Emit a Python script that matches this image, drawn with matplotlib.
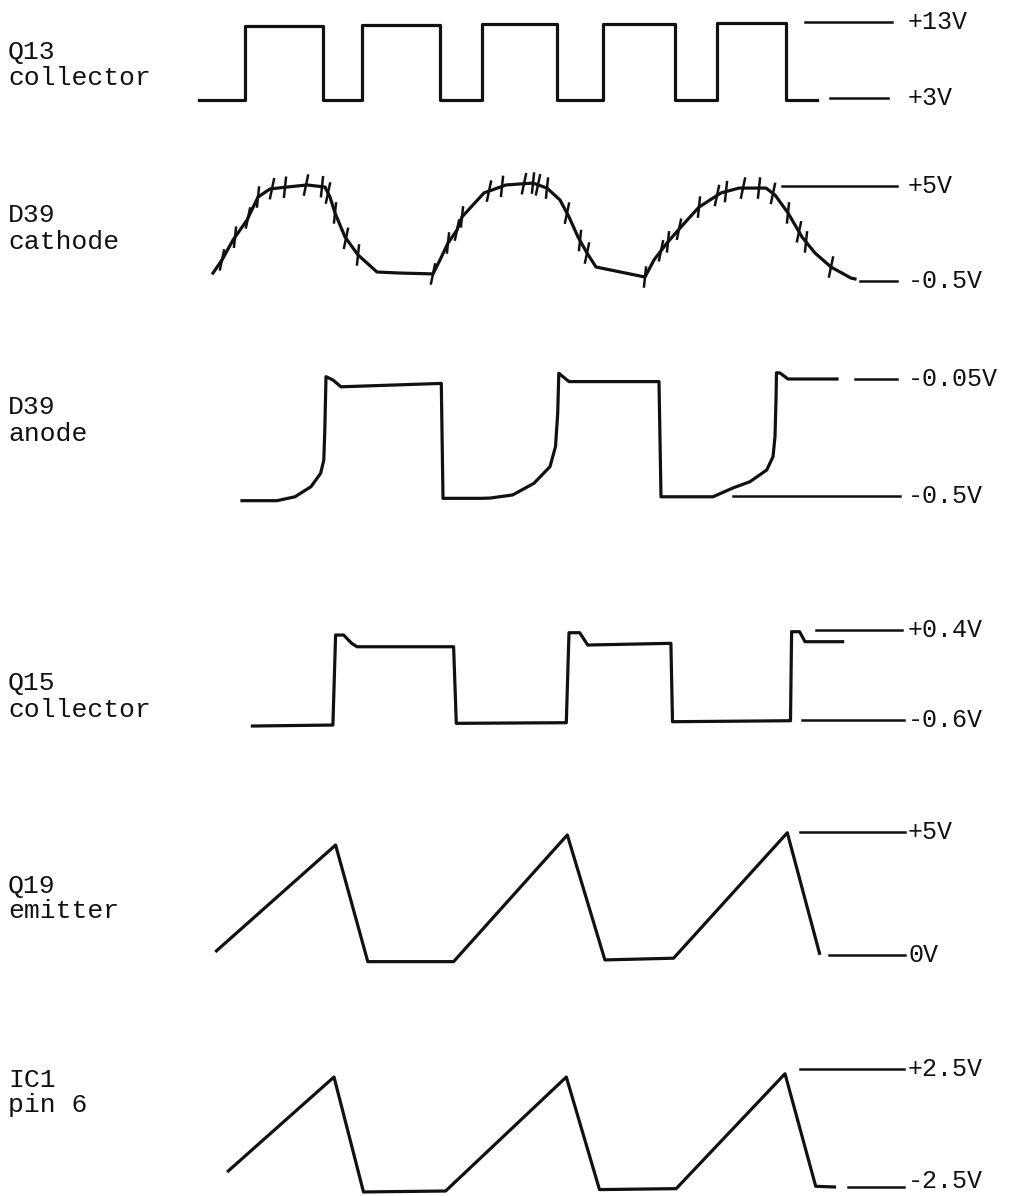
import numpy as np
import matplotlib.pyplot as plt

plt.rcParams['font.family'] = ['Liberation Mono', 'DejaVu Sans Mono']

W, H = 1017, 1196

# Q13 collector: square wave (step edges, volts)
q13_t = [199, 244.5, 323, 362, 440, 482, 557, 603, 675, 717, 786, 817]
q13_v = [2.8, 12.45, 2.8, 12.55, 2.8, 12.7, 2.8, 12.8, 2.8, 12.9, 2.8, 2.8]

# D39 cathode: rounded humps
cath_t = [213, 222, 233, 247, 258, 270, 287, 307, 325, 330, 335, 345, 358, 377, 400, 433,
          440, 448, 457, 462, 484, 506, 533, 547, 560, 569, 578, 587, 596, 645,
          654, 667, 681, 699, 721, 739, 766, 775, 788, 802, 815, 831, 851, 855]
cath_v = [-0.04, 0.72, 1.87, 3.03, 4.36, 4.83, 4.94, 5.06, 4.94, 4.36, 3.44, 2.05, 1.01, 0.02, -0.04, -0.09,
          0.72, 1.70, 2.45, 3.21, 4.60, 5.06, 5.17, 4.88, 4.19, 3.21, 2.05, 1.12, 0.31, -0.27,
          0.72, 1.70, 2.63, 3.78, 4.60, 4.88, 4.88, 4.48, 3.44, 2.05, 1.12, 0.31, -0.33, -0.38]
# hand-drawn hatch marks along the cathode trace
cath_marks = [222, 235, 248, 258, 272, 285, 306, 322, 328, 335, 346, 358, 433,
              448, 457, 462, 489, 502, 524, 533, 538, 547, 567, 580, 587, 645,
              661, 668, 679, 699, 717, 726, 743, 759, 773, 788, 799, 806, 831]

# D39 anode
anode_t = [242, 277, 295, 311, 320.6, 323.8, 324.8, 326, 333, 341, 441.3, 443,
           480.4, 490, 512.6, 534, 550, 555.5, 557.7, 558.8, 569, 659, 661,
           713, 733, 750, 766.7, 773, 775, 776, 776.5, 780, 788, 837]
anode_v = [-0.518, -0.518, -0.503, -0.464, -0.413, -0.362, -0.246, -0.041, -0.054, -0.080, -0.067, -0.509,
           -0.509, -0.508, -0.496, -0.451, -0.387, -0.310, -0.182, -0.028, -0.060, -0.060, -0.503,
           -0.503, -0.469, -0.445, -0.400, -0.349, -0.272, -0.131, -0.026, -0.027, -0.050, -0.050]

# Q15 collector
q15_t = [252.4, 332.9, 335.6, 343.6, 351.7, 357, 453.6, 456.3, 566.3, 569, 579.7, 587.7,
         670.9, 672.5, 790.5, 791.6, 799.6, 805, 842.6]
q15_v = [-0.667, -0.656, 0.344, 0.344, 0.252, 0.214, 0.214, -0.637, -0.630, 0.370, 0.370, 0.233,
         0.252, -0.619, -0.608, 0.381, 0.381, 0.270, 0.270]

# Q19 emitter: sawtooth
q19_t = [216.5, 335.6, 367.8, 453.6, 567.3, 604.9, 673.6, 787.3, 819.5]
q19_v = [0.17, 4.47, -0.27, -0.27, 4.88, -0.20, -0.13, 4.97, 0.07]

# IC1 pin 6: sawtooth
ic1_t = [228.3, 334, 363.5, 445.6, 566.3, 599.5, 676.2, 785, 815.7, 834.5]
ic1_v = [-1.82, 2.16, -2.71, -2.67, 2.16, -2.61, -2.57, 2.30, -2.47, -2.5]

names = [["Q13", "collector"], ["D39", "cathode"], ["D39", "anode"],
         ["Q15", "collector"], ["Q19", "emitter"], ["IC1", "pin 6"]]
ref_hi = [13, 5, -0.05, 0.4, 5, 2.5]
ref_lo = [3, -0.5, -0.5, -0.6, 0, -2.5]
hi_text = ["+13V", "+5V", "-0.05V", "+0.4V", "+5V", "+2.5V"]
lo_text = ["+3V", "-0.5V", "-0.5V", "-0.6V", "0V", "-2.5V"]

# layout: pixel rows of the two reference levels, label rows, reference line spans
rows = [(22, 98), (186, 281), (379, 496), (630, 720), (832, 955), (1069, 1187)]
name_rows = [(52, 78), (215, 242), (407, 434), (683, 710), (886, 911), (1080, 1105)]
hi_span = [(805, 892), (782, 897), (855, 897), (816, 902), (800, 905), (800, 904)]
lo_span = [(830, 888), (860, 897), (733, 900), (802, 904), (829, 905), (848, 904)]
lo_lift = [0, 0, 0, 0, 0, 6]  # px, keeps the bottom label inside the page

fig = plt.figure(figsize=(W / 100, H / 100), dpi=100)
fig.patch.set_facecolor('white')

axes = []
for i in range(6):
    ax = fig.add_axes([0, 0, 1, 1])
    ax.set_xlim(0, W)
    r_hi, r_lo = rows[i]
    k = (ref_hi[i] - ref_lo[i]) / (r_lo - r_hi)
    ax.set_ylim(ref_lo[i] - (H - r_lo) * k, ref_lo[i] + r_lo * k)
    ax.axis('off')
    ax.patch.set_alpha(0)
    axes.append(ax)

lw = 2.3
ink = '#111111'

axes[0].step(q13_t, q13_v, where='post', color=ink, lw=lw)
axes[1].plot(cath_t, cath_v, color=ink, lw=lw, solid_joinstyle='round')
axes[2].plot(anode_t, anode_v, color=ink, lw=lw)
axes[3].plot(q15_t, q15_v, color=ink, lw=lw)
axes[4].plot(q19_t, q19_v, color=ink, lw=lw)
axes[5].plot(ic1_t, ic1_v, color=ink, lw=lw)

# hatch marks on cathode trace
mk_y = np.interp(cath_marks, cath_t, cath_v)
for j, (mx, my) in enumerate(zip(cath_marks, mk_y)):
    tilt = 2.0 if j % 2 == 0 else 1.0
    axes[1].plot([mx - tilt, mx + tilt], [my - 0.55, my + 0.55], color=ink, lw=1.8)

for i, ax in enumerate(axes):
    ax.plot(hi_span[i], [ref_hi[i]] * 2, color=ink, lw=1.8)
    ax.plot(lo_span[i], [ref_lo[i]] * 2, color=ink, lw=1.8)
    ax.text(908, ref_hi[i], hi_text[i], fontsize=18, va='center', ha='left', color=ink)
    ax.annotate(lo_text[i], (908, ref_lo[i]), xytext=(0, lo_lift[i]),
                textcoords='offset pixels', fontsize=18, va='center', ha='left', color=ink)

for i in range(6):
    for line, row in zip(names[i], name_rows[i]):
        fig.text(8 / W, 1 - row / H, line, fontsize=19, va='center', ha='left', color=ink)

fig.savefig("out.png", dpi=100, facecolor='white')
